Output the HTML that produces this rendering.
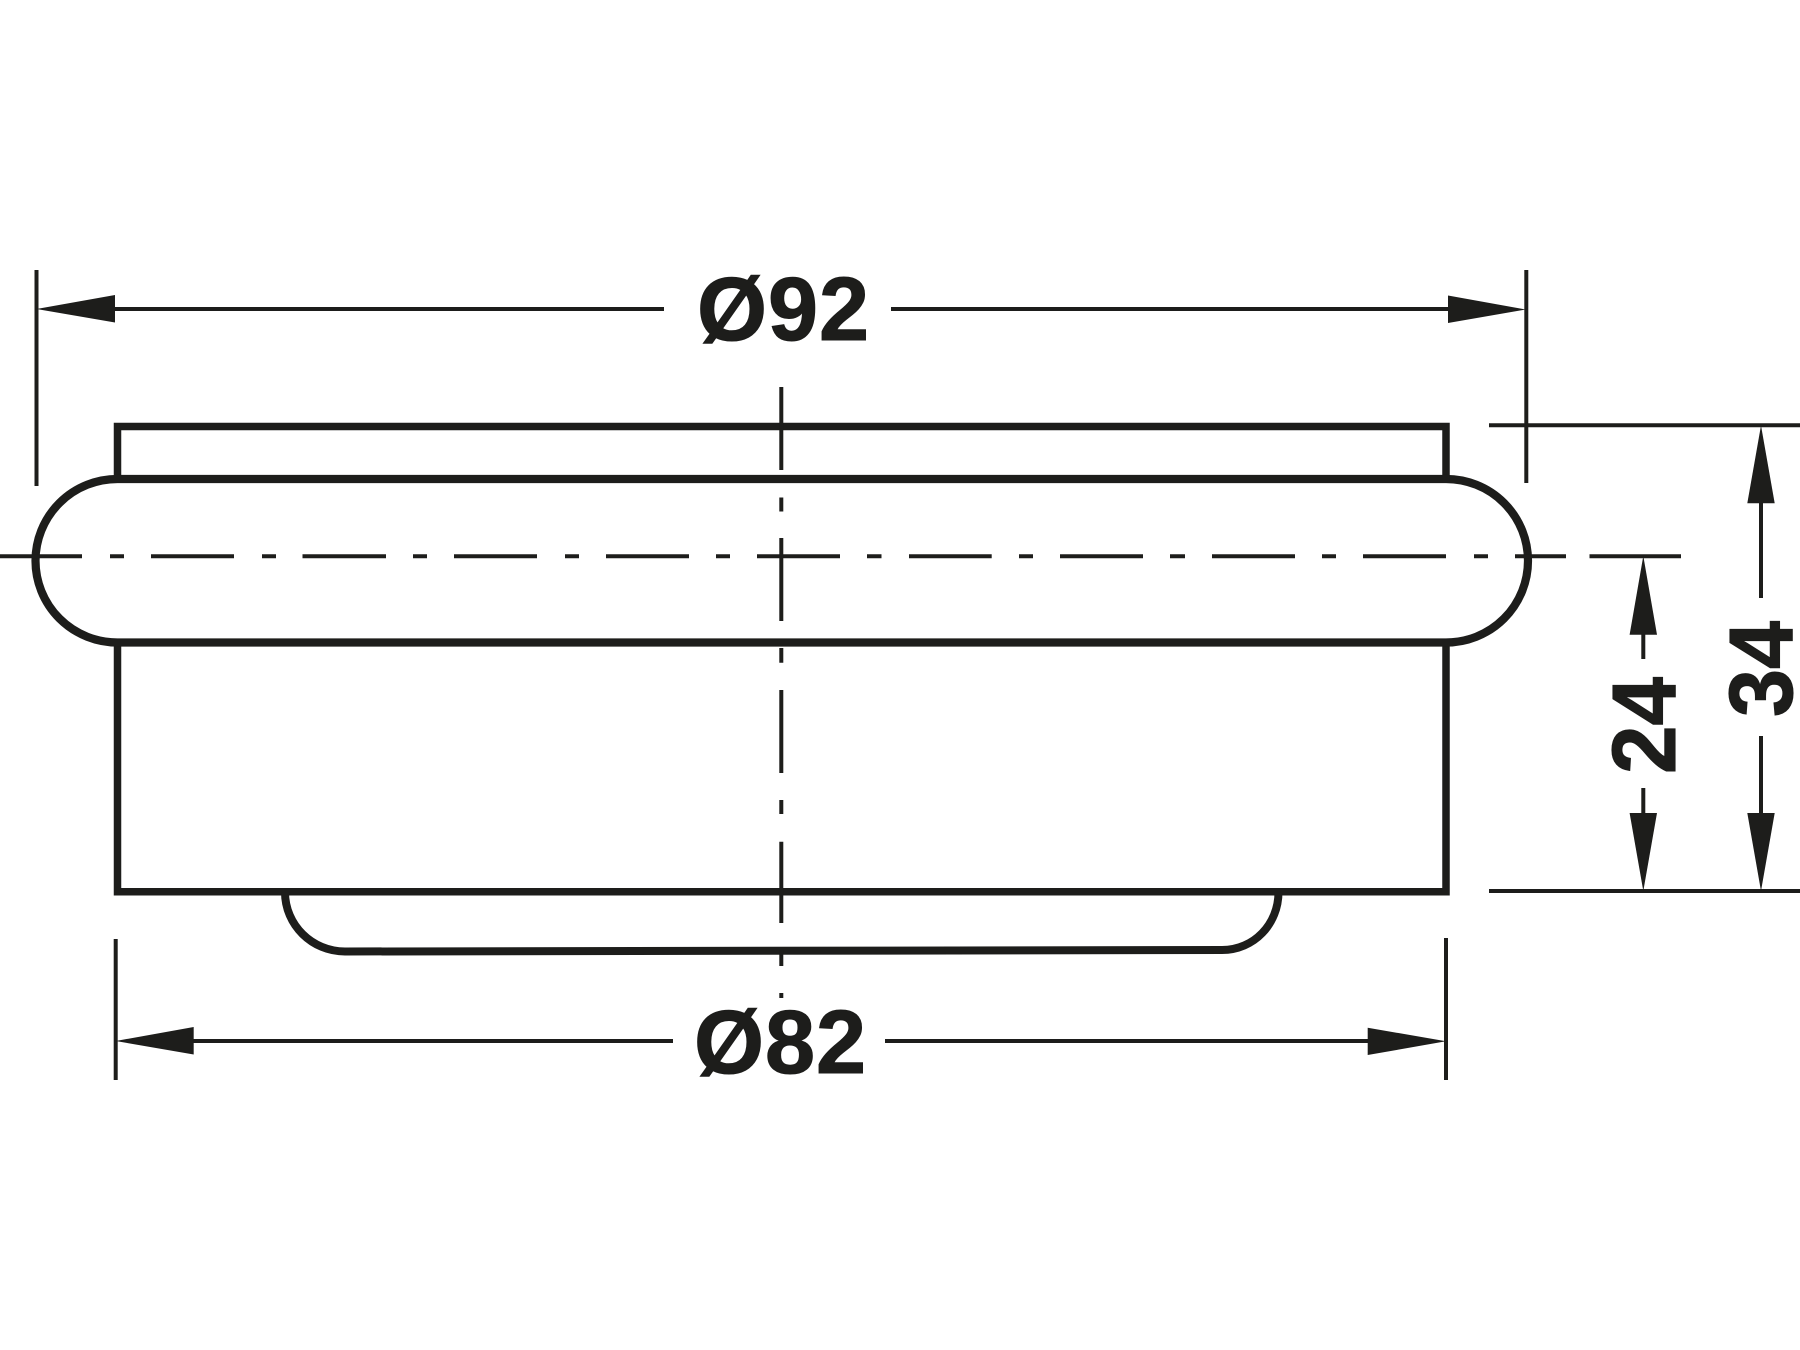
<!DOCTYPE html>
<html><head><meta charset="utf-8"><style>
html,body{margin:0;padding:0;background:#fff}
svg{display:block}
text{font-family:"Liberation Sans",sans-serif;font-weight:700;font-size:90px;fill:#1d1d1b;stroke:#1d1d1b;stroke-width:1.1px}
</style></head><body>
<svg width="1800" height="1350" viewBox="0 0 1800 1350" xmlns="http://www.w3.org/2000/svg">
<rect width="1800" height="1350" fill="#fff"/>
<g fill="none" stroke="#1d1d1b" stroke-width="7.5">
<path d="M117.5 479V426.5H1446V479"/>
<path d="M117.5 642.5V891.7H1446V642.5"/>
<path stroke-width="8" d="M285 892C285 925 312 951.5 345 951.5L1222 950C1254 950 1278.5 924 1278.5 892"/>
<path stroke-width="8.2" d="M117.5 479H1446A82 81.75 0 0 1 1446 642.5H117.5A82 81.75 0 0 1 117.5 479Z"/>
</g>
<g fill="none" stroke="#1d1d1b" stroke-width="4">
<path d="M36.5 270V486M1526.3 270V483M115.7 939V1080M1446 938V1080"/>
<path d="M110 309H664M891 309H1455"/>
<path d="M185 1041H673M885 1041H1375"/>
<path d="M1489 425.3H1800M1489 891H1800"/>
<path d="M1761 500V598M1761 736V816M1643.3 630V659M1643.3 788V816"/>
<path d="M0 556.3H82M110 556.3H124M151 556.3H234M262 556.3H276M302.5 556.3H386M413 556.3H427M454 556.3H537M565 556.3H579M606 556.3H689M716 556.3H730M757 556.3H840M867 556.3H881.5M909 556.3H991.7M1019 556.3H1033M1060 556.3H1143M1170 556.3H1185M1212 556.3H1295M1322 556.3H1336M1363 556.3H1446M1474 556.3H1488M1515 556.3H1566M1589.5 556.3H1681"/>
<path d="M781.3 387V470M781.3 497.5V511.5M781.3 538V621M781.3 648V662.7M781.3 690V773M781.3 800V814M781.3 841.7V923M781.3 950V966M781.3 993V998"/>
</g>
<g fill="#1d1d1b">
<polygon points="36.5,309 115,295 115,322.5"/>
<polygon points="1526,309.5 1448,295.5 1448,323"/>
<polygon points="115.7,1041 193.7,1027 193.7,1054.5"/>
<polygon points="1446,1041.3 1367.7,1027.7 1367.7,1055"/>
<polygon points="1761,425.5 1747.3,503.3 1774.7,503.3"/>
<polygon points="1761,891 1747.3,813 1774.7,813"/>
<polygon points="1643.3,556 1629.6,634.7 1657,634.7"/>
<polygon points="1643.3,891 1629.6,813 1657,813"/>
</g>
<text x="697" y="340" letter-spacing="1">Ø92</text>
<text x="694" y="1073" letter-spacing="1">Ø82</text>
<text transform="translate(1675 774) rotate(-90) scale(.97,1)">24</text>
<text transform="translate(1792 717) rotate(-90) scale(.96,1)">34</text>
</svg>
</body></html>
